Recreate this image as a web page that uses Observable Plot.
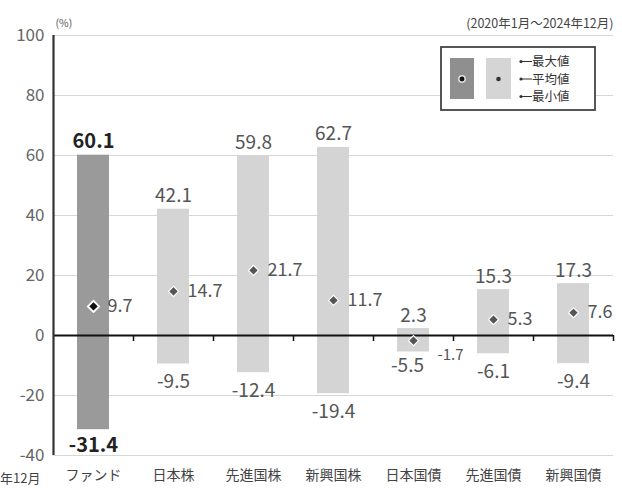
<!DOCTYPE html>
<html><head><meta charset="utf-8">
<script src="https://cdn.jsdelivr.net/npm/d3@7"></script>
<script src="https://cdn.jsdelivr.net/npm/@observablehq/plot@0.6"></script>
<style>
body{margin:0;background:#fff;font-family:"Noto Sans CJK JP","Noto Sans",sans-serif;}
#wrap{position:relative;width:622px;height:489px;overflow:hidden;}
#legend{position:absolute;left:0;top:0;}
#edge{position:absolute;left:0px;top:468px;font-size:13px;color:#444;}
</style></head>
<body><div id="wrap"></div>
<script>
const categories = ["ファンド","日本株","先進国株","新興国株","日本国債","先進国債","新興国債"];
const maxValues  = [60.1, 42.1, 59.8, 62.7, 2.3, 15.3, 17.3];
const meanValues = [9.7, 14.7, 21.7, 11.7, -1.7, 5.3, 7.6];
const minValues  = [-31.4, -9.5, -12.4, -19.4, -5.5, -6.1, -9.4];
const yTicks = [-40, -20, 0, 20, 40, 60, 80, 100];
const subtitle = "(2020年1月～2024年12月)";
const unitLabel = "(%)";
const legendLabels = ["最大値", "平均値", "最小値"];

const data = categories.map((c, i) => ({cat: c, max: maxValues[i], mean: meanValues[i], min: minValues[i], fund: i === 0}));
const fund = data.filter(d => d.fund);
const others = data.filter(d => !d.fund);
const normalMean = data.filter(d => d.cat !== "日本国債");
const jgb = data.filter(d => d.cat === "日本国債");
const normalMin = others.filter(d => d.cat !== "日本国債");
const fmt = v => v.toFixed(1);
const FONT = "Noto Sans CJK JP";

const chart = Plot.plot({
  width: 622, height: 489,
  marginLeft: 53, marginRight: 9, marginTop: 35, marginBottom: 34,
  style: {fontFamily: FONT, background: "#fff"},
  x: {domain: categories, paddingInner: 0.6, paddingOuter: 0.3, label: null},
  y: {domain: [-40, 100], label: null},
  marks: [
    Plot.gridY(yTicks.filter(t => t !== 0), {stroke: "#d6d6d6", strokeOpacity: 1, strokeWidth: 1.2}),
    Plot.axisY(yTicks, {tickSize: 0, tickPadding: 9, fontSize: 17, fill: "#666", label: null, tickFormat: d => String(d)}),
    Plot.axisX({tickSize: 0, tickPadding: 15, fontSize: 14, fill: "#444", label: null}),
    Plot.barY(data, {x: "cat", y1: "min", y2: "max", fill: d => d.fund ? "#9a9a9a" : "#d4d4d4"}),
    Plot.ruleY([0], {stroke: "#111", strokeWidth: 2.2}),
    Plot.ruleX(data.slice(1), {x: "cat", dx: -40, y1: 0, y2: -2, stroke: "#111", strokeWidth: 1.5}),
    Plot.ruleX(data.slice(-1), {x: "cat", dx: 40, y1: 0, y2: -2, stroke: "#111", strokeWidth: 1.5}),
    Plot.ruleX(data.slice(0, 1), {x: "cat", dx: -40, y1: -40, y2: 100, stroke: "#333", strokeWidth: 2.2}),
    Plot.dot(fund, {x: "cat", y: "mean", symbol: "diamond2", r: 5, fill: "#111", stroke: "#fff", strokeWidth: 2}),
    Plot.dot(others, {x: "cat", y: "mean", symbol: "diamond2", r: 4.5, fill: "#555", stroke: "#fff", strokeWidth: 1.2}),
    Plot.text(normalMean, {x: "cat", y: "mean", text: d => fmt(d.mean), dx: 14, textAnchor: "start", fontSize: 18, fill: "#555"}),
    Plot.text(jgb, {x: "cat", y: "mean", text: d => fmt(d.mean), dx: 24, dy: 15, textAnchor: "start", fontSize: 15, fill: "#555"}),
    Plot.text(fund, {x: "cat", y: "max", text: d => fmt(d.max), dy: -14, fontSize: 20, fontWeight: "bold", fill: "#222"}),
    Plot.text(others, {x: "cat", y: "max", text: d => fmt(d.max), dy: -13, fontSize: 19, fill: "#555"}),
    Plot.text(fund, {x: "cat", y: "min", text: d => fmt(d.min), dy: 16, fontSize: 20, fontWeight: "bold", fill: "#222"}),
    Plot.text(normalMin, {x: "cat", y: "min", text: d => fmt(d.min), dy: 18, fontSize: 19, fill: "#555"}),
    Plot.text(jgb, {x: "cat", y: "min", text: d => fmt(d.min), dx: -6, dy: 14, fontSize: 19, fill: "#555"}),
    Plot.text([unitLabel], {frameAnchor: "top-left", text: d => d, dx: 2, dy: -16, textAnchor: "start", fontSize: 10.5, fill: "#555"}),
    Plot.text([subtitle], {frameAnchor: "top-right", text: d => d, dx: 0, dy: -16, textAnchor: "end", fontSize: 12.5, fill: "#444"})
  ]
});
const wrap = document.getElementById("wrap");
wrap.appendChild(chart);

// legend overlay
const lg = d3.create("svg").attr("id", "legend").attr("width", 622).attr("height", 130)
  .style("font-family", FONT);
lg.append("rect").attr("x", 441).attr("y", 47).attr("width", 154).attr("height", 63)
  .attr("fill", "#fff").attr("stroke", "#444").attr("stroke-width", 1.8);
lg.append("rect").attr("x", 450).attr("y", 58).attr("width", 24).attr("height", 41).attr("fill", "#8f8f8f");
lg.append("circle").attr("cx", 462).attr("cy", 79).attr("r", 3.2).attr("fill", "#111").attr("stroke", "#ddd").attr("stroke-width", 1.5);
lg.append("rect").attr("x", 486).attr("y", 58).attr("width", 25).attr("height", 41).attr("fill", "#d5d5d5");
lg.append("circle").attr("cx", 498.5).attr("cy", 79).attr("r", 2.3).attr("fill", "#333");
legendLabels.forEach((t, i) => {
  const y = 61.5 + i * 17.5;
  lg.append("circle").attr("cx", 521).attr("cy", y).attr("r", 1.6).attr("fill", "#333");
  lg.append("line").attr("x1", 521).attr("x2", 532).attr("y1", y).attr("y2", y).attr("stroke", "#333").attr("stroke-width", 1);
  lg.append("text").attr("x", 532).attr("y", y).attr("dy", "0.36em").attr("font-size", 12.5).attr("fill", "#333").text(t);
});
wrap.appendChild(lg.node());
const edge = document.createElement("div");
edge.id = "edge"; edge.textContent = "年12月";
wrap.appendChild(edge);
</script></body></html>
